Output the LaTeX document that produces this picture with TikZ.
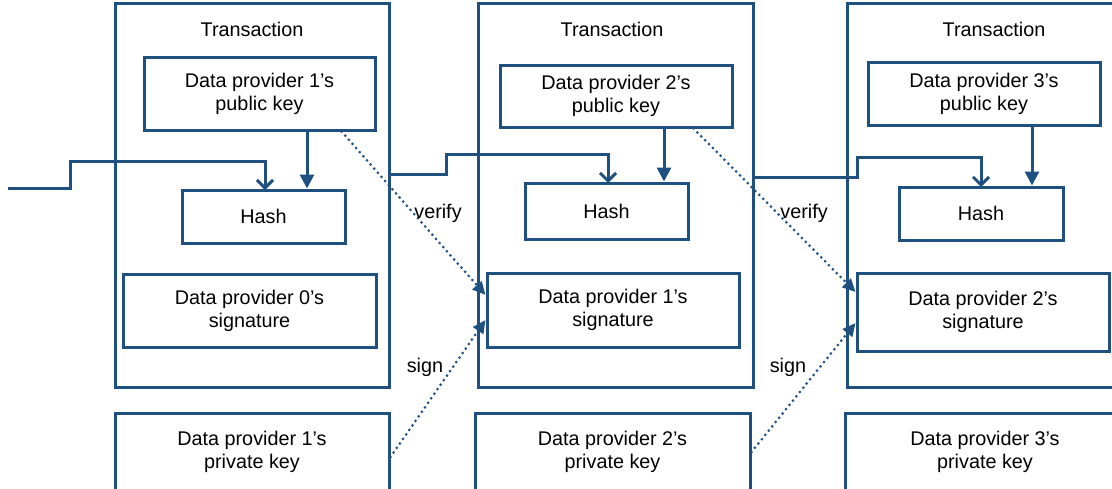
\documentclass[tikz,border=0pt]{standalone}
\usepackage{fontspec}
\setmainfont{Liberation Sans}
\usetikzlibrary{arrows.meta,calc}
\definecolor{dblue}{RGB}{32,80,128}
\begin{document}
\begin{tikzpicture}[x=1pt,y=-1pt,
  txt/.style={font=\fontsize{19.8}{23}\selectfont, text=black},
  box/.style={txt, draw=dblue, line width=3pt, inner sep=0pt, align=center},
  link/.style={draw=dblue, line width=3pt, -{Straight Barb[length=8pt,width=16pt,line width=3pt]}},
  keyarrow/.style={draw=dblue, line width=3pt, -{Triangle[length=14pt,width=14pt]}},
  dotline/.style={draw=dblue, line width=3pt, line cap=round, dash pattern=on 0pt off 5.5pt, -{Triangle[length=13pt,width=12pt]}},
  lbl/.style={txt, inner sep=0pt}
]
\useasboundingbox (0,0) rectangle (1112,488);

% transactions
\node[box, minimum width=274pt, minimum height=384pt] (tx1) at (252,195) {};
\node[box, minimum width=275pt, minimum height=384pt] (tx2) at (615.5,195) {};
\node[box, minimum width=275pt, minimum height=384pt] (tx3) at (984.5,195) {};
\node[lbl] (t1) at (252,29) {Transaction};
\node[lbl] (t2) at (612,29) {Transaction};
\node[lbl] (t3) at (994,29) {Transaction};

% public keys
\node[box, minimum width=231pt, minimum height=73pt] (pub1) at (259.5,93.5) {Data provider 1’s\\public key};
\node[box, minimum width=232pt, minimum height=62pt] (pub2) at (616,96) {Data provider 2’s\\public key};
\node[box, minimum width=232pt, minimum height=63pt] (pub3) at (984,93.5) {Data provider 3’s\\public key};

% hashes
\node[box, minimum width=163pt, minimum height=53pt] (hash1) at (263.5,216.5) {Hash};
\node[box, minimum width=163pt, minimum height=56pt] (hash2) at (606.5,211) {Hash};
\node[box, minimum width=164pt, minimum height=53pt] (hash3) at (981,213.5) {Hash};

% signatures
\node[box, minimum width=253pt, minimum height=73pt] (sig0) at (249.5,310.5) {Data provider 0’s\\signature};
\node[box, minimum width=252pt, minimum height=74pt] (sig1) at (613,310) {Data provider 1’s\\signature};
\node[box, minimum width=252pt, minimum height=78pt] (sig2) at (983,312) {Data provider 2’s\\signature};

% private keys
\node[box, minimum width=274pt, minimum height=78pt] (priv1) at (252,452) {Data provider 1’s\\private key};
\node[box, minimum width=275pt, minimum height=78pt] (priv2) at (612.5,452) {Data provider 2’s\\private key};
\node[box, minimum width=280pt, minimum height=78pt] (priv3) at (985,452) {Data provider 3’s\\private key};

% chain links
\coordinate (in0) at (8,188);
\draw[link] (in0) -- (70,188) -- (70,161) -- (265,161) -- (265,190);
\draw[link] (tx1.east |- 0,174) -- (446,174) -- (446,154) -- (608,154) -- (608,183);
\draw[link] (tx2.east |- 0,177) -- (857,177) -- (857,157) -- (981,157) -- (981,187);

% public key -> hash
\draw[keyarrow] (pub1.south -| 307,0) -- (hash1.north -| 307,0);
\draw[keyarrow] (pub2.south -| 664,0) -- (hash2.north -| 664,0);
\draw[keyarrow] (pub3.south -| 1032,0) -- (hash3.north -| 1032,0);

% verify / sign
\draw[dotline] ([xshift=-35pt]pub1.south east) -- ([yshift=15pt]sig1.west);
\draw[dotline] ([xshift=-40pt]pub2.south east) -- ([yshift=20pt]sig2.west);
\draw[dotline] ([yshift=-5pt]priv1.east) -- ([yshift=-10pt]sig1.west);
\draw[dotline] (priv2.east) -- ([yshift=-11pt]sig2.west);

\node[lbl] (v1) at (438,213) {verify};
\node[lbl] (v2) at (804,213) {verify};
\node[lbl] (s1) at (425,367) {sign};
\node[lbl] (s2) at (788,367) {sign};
\end{tikzpicture}
\end{document}
